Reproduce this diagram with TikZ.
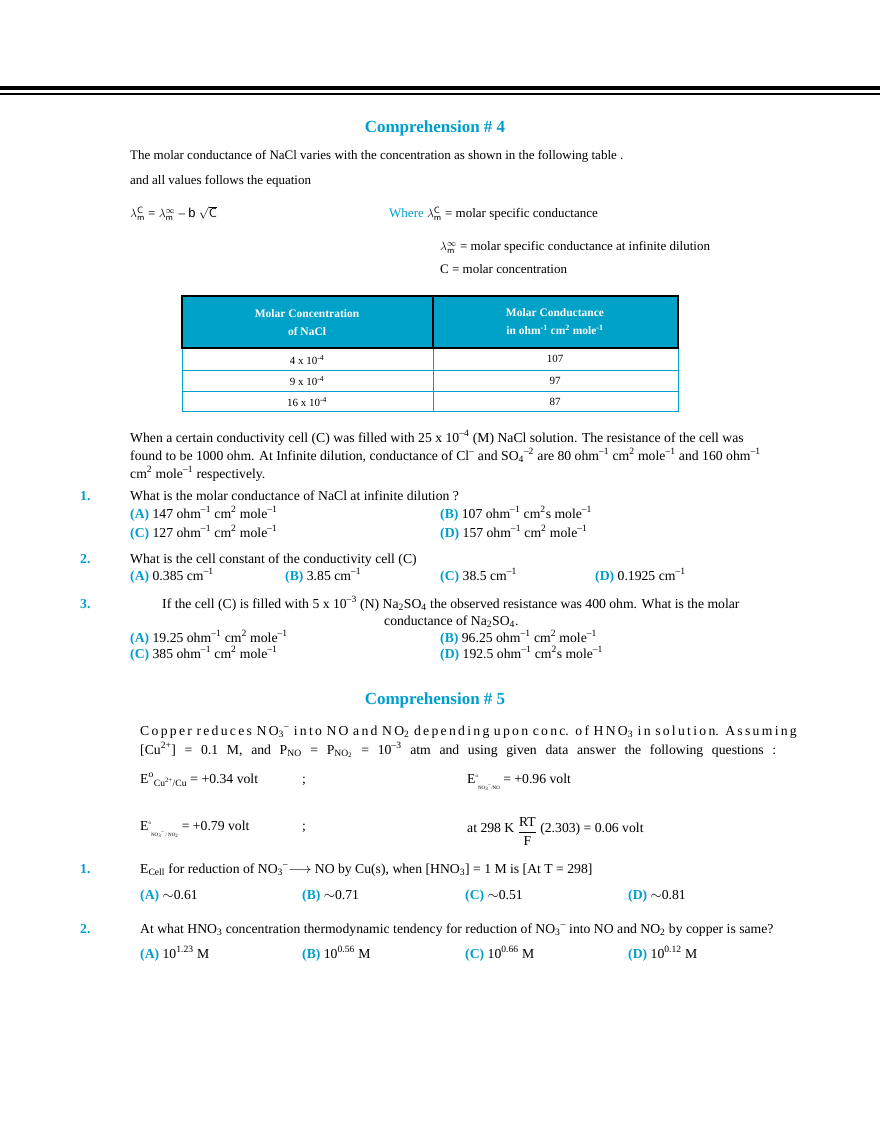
\documentclass[tikz,border=0pt]{standalone}
\usepackage{fontspec}
\setmainfont{Liberation Serif}
\newfontfamily\sansf{Liberation Sans}
\definecolor{cy}{RGB}{0,158,204}
\definecolor{hd}{RGB}{0,162,200}
\newcommand{\sps}[1]{\textsuperscript{#1}}
\newcommand{\sbs}[1]{\textsubscript{#1}}
\newcommand{\mi}{\textsuperscript{--1}}
\newcommand{\op}[1]{{\bfseries\color{cy}(#1)}~}
\begin{document}
\begin{tikzpicture}[x=1pt,y=-1pt,every node/.style={inner sep=0pt,font=\fontsize{13.7}{15}\selectfont},
 t/.style={anchor=base west},
 s/.style={font=\fontsize{13}{15}\selectfont},
 nb/.style={anchor=base west,font=\fontsize{13.7}{15}\selectfont\bfseries,text=cy},
 h/.style={anchor=base,font=\fontsize{17}{19}\selectfont\bfseries,text=cy}]
\useasboundingbox (0,0) rectangle (880,1139);
\draw[line width=4] (0,88) -- (880,88);
\draw[line width=1.5] (0,94) -- (880,94);
\node[h] (c4) at (435,133) {Comprehension \# 4};
\node[t,s] (p1) at (130,160) {The molar conductance of NaCl varies with the concentration as shown in the following table .};
\node[t,s] (p2) at (130,185) {and all values follows the equation};
\node[t,s] (f1) at (130,218) {$\lambda_{\mathsf m}^{\mathsf C}$ = $\lambda_{\mathsf m}^{\infty}$ -- {\sansf b} $\sqrt{\mathsf C}$};
\node[t,s] (w1) at (389,218) {{\color{cy}Where} $\lambda_{\mathsf m}^{\mathsf C}$ = molar specific conductance};
\node[t,s] (w2) at (440,251) {$\lambda_{\mathsf m}^{\infty}$ = molar specific conductance at infinite dilution};
\node[t,s] (w3) at (440,274) {C = molar concentration};
% table
\fill[hd] (182,296) rectangle (678,348);
\draw[cy,line width=1] (182,348) rectangle (678,411) (182,370) -- (678,370) (182,391) -- (678,391) (433,348) -- (433,411);
\draw[black,line width=1.5] (182,296) rectangle (678,348) (433,296) -- (433,348);
\node[align=center,text=white,font=\fontsize{11.5}{18}\selectfont\bfseries] (th1) at (307,323) {Molar Concentration\\of NaCl};
\node[align=center,text=white,font=\fontsize{11.5}{18}\selectfont\bfseries] (th2) at (555,322) {Molar Conductance\\in ohm\sps{-1} cm\sps{2} mole\sps{-1}};
\node[anchor=base,font=\fontsize{11}{13}\selectfont] (r1a) at (307,364) {4 x 10\sps{-4}};
\node[anchor=base,font=\fontsize{11}{13}\selectfont] (r2a) at (307,385) {9 x 10\sps{-4}};
\node[anchor=base,font=\fontsize{11}{13}\selectfont] (r3a) at (307,406) {16 x 10\sps{-4}};
\node[anchor=base,font=\fontsize{11}{13}\selectfont] (r1b) at (555,362) {107};
\node[anchor=base,font=\fontsize{11}{13}\selectfont] (r2b) at (555,384) {97};
\node[anchor=base,font=\fontsize{11}{13}\selectfont] (r3b) at (555,405) {87};
\node[t] (q0a) at (130,442) {When a certain conductivity cell (C) was filled with 25 x 10\sps{--4} (M) NaCl solution. The resistance of the cell was};
\node[t] (q0b) at (130,460) {found to be 1000 ohm. At Infinite dilution, conductance of Cl\sps{--} and SO\sbs{4}\sps{--2} are 80 ohm\mi\ cm\sps{2} mole\mi\ and 160 ohm\mi};
\node[t] (q0c) at (130,478) {cm\sps{2} mole\mi\ respectively.};
\node[nb] (n1) at (80,500) {1.};
\node[t] (q1) at (130,500) {What is the molar conductance of NaCl at infinite dilution ?};
\node[t] (q1a) at (130,518) {\op{A}147 ohm\mi\ cm\sps{2} mole\mi};
\node[t] (q1b) at (440,518) {\op{B}107 ohm\mi\ cm\sps{2}s mole\mi};
\node[t] (q1c) at (130,537) {\op{C}127 ohm\mi\ cm\sps{2} mole\mi};
\node[t] (q1d) at (440,537) {\op{D}157 ohm\mi\ cm\sps{2} mole\mi};
\node[nb] (n2) at (80,563) {2.};
\node[t] (q2) at (130,563) {What is the cell constant of the conductivity cell (C)};
\node[t] (q2a) at (130,580) {\op{A}0.385 cm\mi};
\node[t] (q2b) at (285,580) {\op{B}3.85 cm\mi};
\node[t] (q2c) at (440,580) {\op{C}38.5 cm\mi};
\node[t] (q2d) at (595,580) {\op{D}0.1925 cm\mi};
\node[nb] (n3) at (80,608) {3.};
\node[t] (q3) at (162,608) {If the cell (C) is filled with 5 x 10\sps{--3} (N) Na\sbs{2}SO\sbs{4} the observed resistance was 400 ohm. What is the molar};
\node[t] (q3l) at (384,625) {conductance of Na\sbs{2}SO\sbs{4}.};
\node[t] (q3a) at (130,642) {\op{A}19.25 ohm\mi\ cm\sps{2} mole\mi};
\node[t] (q3b) at (440,642) {\op{B}96.25 ohm\mi\ cm\sps{2} mole\mi};
\node[t] (q3c) at (130,658) {\op{C}385 ohm\mi\ cm\sps{2} mole\mi};
\node[t] (q3d) at (440,658) {\op{D}192.5 ohm\mi\ cm\sps{2}s mole\mi};
\node[h] (c5) at (435,704) {Comprehension \# 5};
\node[t] (s1) at (140,735) {\makebox[636pt][s]{C o p p e r \ r e d u c e s \ N O\sbs{3}\sps{--} \ i n t o \ N O \ a n d \ N O\sbs{2} \ d e p e n d i n g \ u p o n \ c o n c. \ o f \ H N O\sbs{3} \ i n \ s o l u t i o n. \ A s s u m i n g}};
\node[t] (s2) at (140,754) {\makebox[636pt][s]{[Cu\sps{2+}] \ = \ 0.1 \ M, \ and \ P\sbs{NO} \ = \ P\sbs{NO\sbs{2}} \ = \ 10\sps{--3} \ atm \ and \ using \ given \ data \ answer \ the \ following \ questions \ :}};
\node[t] (e1) at (140,783) {E\sps{o}\sbs{Cu\sps{2+}/Cu} = +0.34 volt};
\node[t] (e1s) at (302,783) {;};
\node[t] (e2) at (467,783) {E\raisebox{6pt}{\tiny o}\raisebox{-6pt}{\tiny NO\sbs{3}\sps{--}/NO} = +0.96 volt};
\node[t] (e3) at (140,830) {E\raisebox{6pt}{\tiny o}\raisebox{-6pt}{\tiny NO\sbs{3}\sps{--} / NO\sbs{2}} = +0.79 volt};
\node[t] (e3s) at (302,830) {;};
\node[t] (e4) at (467,832) {at 298 K \raisebox{-4pt}{$\displaystyle\frac{\mbox{RT}}{\mbox{F}}$} (2.303) = 0.06 volt};
\node[nb] (m1) at (80,873) {1.};
\node[t] (r1) at (140,873) {E\sbs{Cell} for reduction of NO\sbs{3}\sps{--}$\longrightarrow$ NO by Cu(s), when [HNO\sbs{3}] = 1 M is [At T = 298]};
\node[t] (r1a) at (140,899) {\op{A}$\sim$0.61};
\node[t] (r1b) at (302,899) {\op{B}$\sim$0.71};
\node[t] (r1c) at (465,899) {\op{C}$\sim$0.51};
\node[t] (r1d) at (628,899) {\op{D}$\sim$0.81};
\node[nb] (m2) at (80,933) {2.};
\node[t] (r2) at (140,933) {At what HNO\sbs{3} concentration thermodynamic tendency for reduction of NO\sbs{3}\sps{--} into NO and NO\sbs{2} by copper is same?};
\node[t] (r2a) at (140,958) {\op{A}10\sps{1.23} M};
\node[t] (r2b) at (302,958) {\op{B}10\sps{0.56} M};
\node[t] (r2c) at (465,958) {\op{C}10\sps{0.66} M};
\node[t] (r2d) at (628,958) {\op{D}10\sps{0.12} M};
\end{tikzpicture}
\end{document}
